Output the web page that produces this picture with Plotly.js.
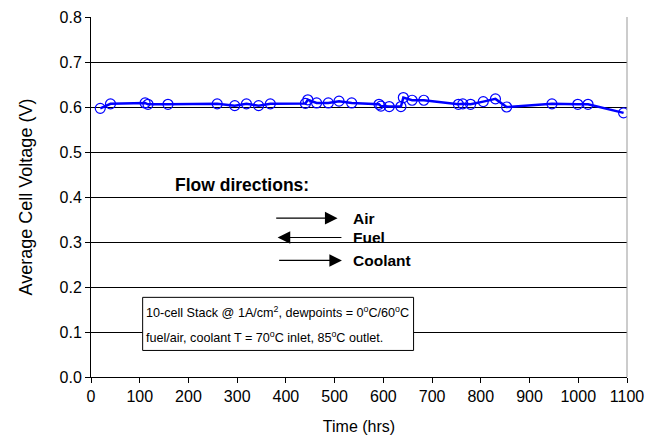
<!DOCTYPE html>
<html>
<head>
<meta charset="utf-8">
<script src="https://cdn.plot.ly/plotly-3.0.1.min.js"></script>
<style>html,body{margin:0;padding:0;background:#fff;}#chart{width:662px;height:443px;}</style>
</head>
<body>
<div id="chart"></div>
<script>
var timeHrs = [19, 40, 111, 117, 158, 259, 295, 319, 344, 368, 440, 445, 463, 487, 509, 535, 591, 595, 612, 636, 641, 659, 683, 754, 763, 779, 805, 830, 853, 946, 999, 1020, 1093];
var avgVoltage = [0.597, 0.607, 0.609, 0.606, 0.606, 0.607, 0.603, 0.607, 0.603, 0.607, 0.608, 0.616, 0.609, 0.609, 0.613, 0.609, 0.606, 0.602, 0.601, 0.601, 0.621, 0.615, 0.615, 0.606, 0.607, 0.606, 0.612, 0.618, 0.600, 0.607, 0.606, 0.606, 0.587];
var xTicks = [0, 100, 200, 300, 400, 500, 600, 700, 800, 900, 1000, 1100];
var yTicks = [0.0, 0.1, 0.2, 0.3, 0.4, 0.5, 0.6, 0.7, 0.8];
var flowLabels = ["Air", "Fuel", "Coolant"];
var noteLines = [
  '10-cell Stack @ 1A/cm<sup>2</sup>, dewpoints = 0<sup>o</sup>C/60<sup>o</sup>C',
  'fuel/air, coolant T = 70<sup>o</sup>C inlet, 85<sup>o</sup>C outlet.'
];

var trace = {
  x: timeHrs, y: avgVoltage, type: 'scatter', mode: 'lines+markers',
  line: {color: '#0000FF', width: 2.5},
  marker: {symbol: 'circle-open', size: 10, color: '#0000FF', line: {width: 1.2, color: '#0000FF'}},
  hoverinfo: 'skip'
};

var fam = 'Arial, Liberation Sans, sans-serif';
var tickFont = {family: fam, size: 16, color: '#000'};
var boxFont = {family: fam, size: 12.6, color: '#000'};
var labelFont = {family: fam, size: 15.5, color: '#000'};

var arrows = [
  {label: flowLabels[0], from: 377, to: 506, y: 0.353},
  {label: flowLabels[1], from: 517, to: 383, y: 0.31},
  {label: flowLabels[2], from: 383, to: 515, y: 0.259}
];
var annotations = [];
arrows.forEach(function(a){
  annotations.push({x: a.to, y: a.y, ax: a.from, ay: a.y, xref: 'x', yref: 'y', axref: 'x', ayref: 'y',
    showarrow: true, arrowhead: 2, arrowsize: 2.1, arrowwidth: 1.2, arrowcolor: '#000', text: ''});
  annotations.push({x: 534, y: a.y, xref: 'x', yref: 'y', xanchor: 'left', yanchor: 'middle', showarrow: false,
    text: '<b>' + a.label + '</b>', font: labelFont});
});
annotations.push({x: 168, y: 0.426, xref: 'x', yref: 'y', xanchor: 'left', yanchor: 'middle', showarrow: false,
  text: '<b>Flow directions:</b>', font: {family: fam, size: 17.5, color: '#000'}});
var lineY = [0.145, 0.090];
noteLines.forEach(function(t, i){
  annotations.push({x: 109, y: lineY[i], xref: 'x', yref: 'y', xanchor: 'left', yanchor: 'middle', showarrow: false, align: 'left',
    text: t, font: boxFont});
});

var layout = {
  width: 662, height: 443,
  margin: {l: 91, r: 35, t: 17, b: 66},
  paper_bgcolor: '#fff', plot_bgcolor: '#fff',
  showlegend: false,
  font: tickFont,
  xaxis: {range: [0, 1100], tickvals: xTicks, ticktext: xTicks.map(String), showgrid: false, zeroline: false,
    showline: true, linecolor: '#000', linewidth: 1, ticks: 'outside', ticklen: 5, tickcolor: '#000',
    title: {text: 'Time (hrs)', font: tickFont, standoff: 16}, tickfont: tickFont},
  yaxis: {range: [0, 0.8], tickvals: yTicks, ticktext: yTicks.map(function(v){return v.toFixed(1);}), showgrid: true, gridcolor: '#000', gridwidth: 1,
    zeroline: false, showline: true, linecolor: '#000', linewidth: 1, ticks: 'outside', ticklen: 5, tickcolor: '#000',
    title: {text: 'Average Cell Voltage (V)', font: {family: fam, size: 18, color: '#000'}, standoff: 22}, tickfont: tickFont},
  shapes: [
    {type: 'line', xref: 'paper', yref: 'paper', x0: 1, x1: 1, y0: 0, y1: 1, line: {color: '#999', width: 1}},
    {type: 'rect', xref: 'x', yref: 'y', x0: 106, x1: 662, y0: 0.059, y1: 0.177, fillcolor: '#fff', line: {color: '#000', width: 1}, layer: 'above'}
  ],
  annotations: annotations
};

Plotly.newPlot('chart', [trace], layout, {displayModeBar: false, staticPlot: true});
</script>
</body>
</html>
